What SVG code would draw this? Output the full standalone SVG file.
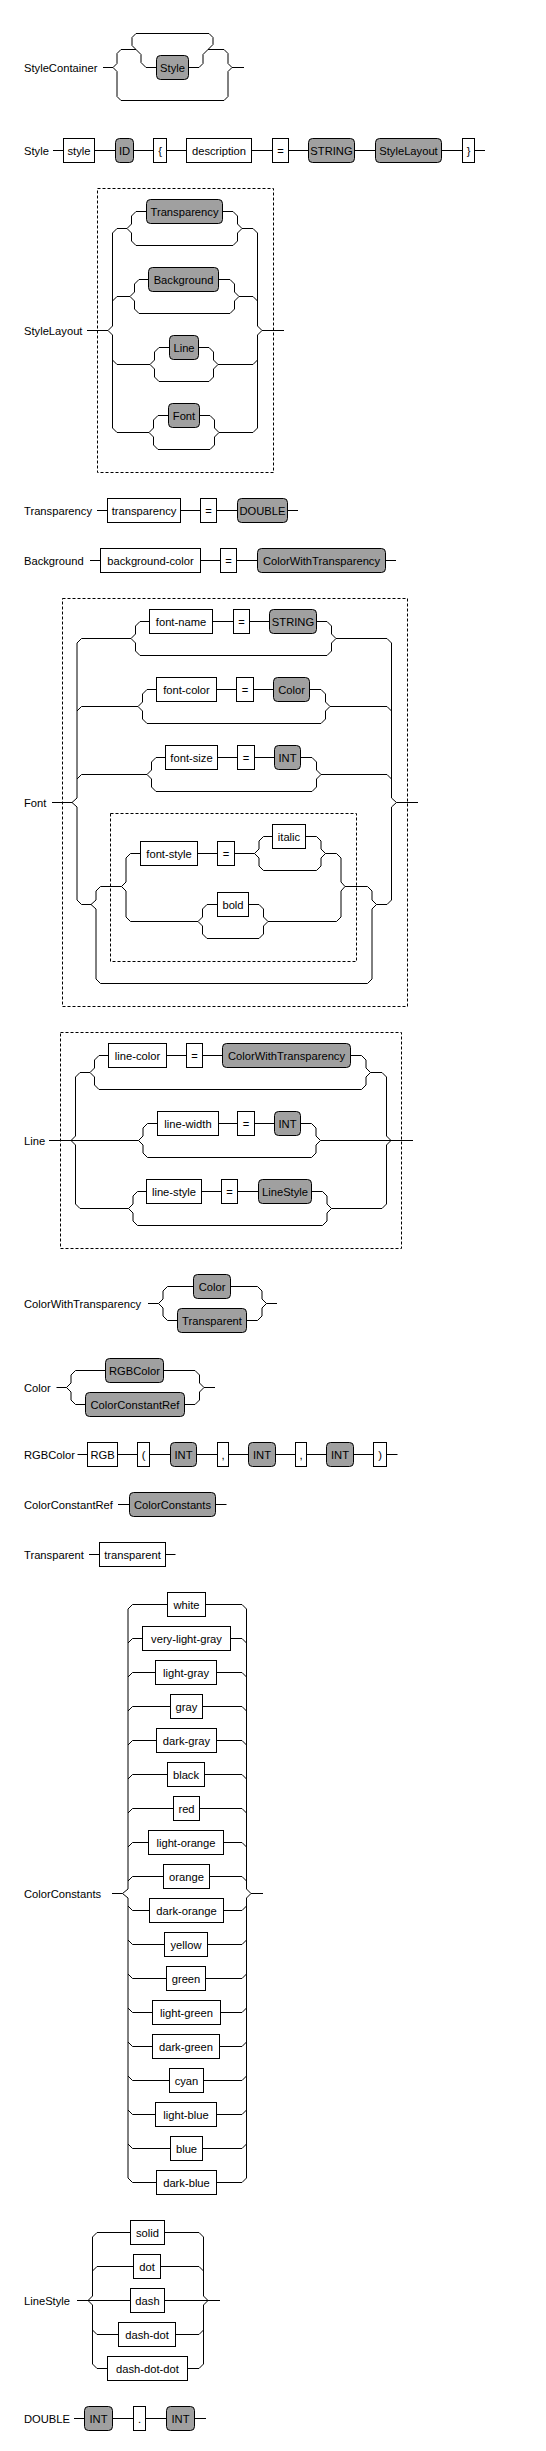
<svg xmlns="http://www.w3.org/2000/svg" width="546" height="2451" viewBox="0 0 546 2451">
<style>
.w{fill:none;stroke:#000;stroke-width:1}
.t{fill:#fff;stroke:#000;stroke-width:1}
.n{fill:#a0a0a0;stroke:#000;stroke-width:1}
.d{fill:none;stroke:#000;stroke-width:1;stroke-dasharray:3,2}
text{font-family:"Liberation Sans",Arial,sans-serif;font-size:11.2px;fill:#000}
.c{text-anchor:middle}
</style>
<rect width="546" height="2451" fill="#fff"/>
<g id="labels">
<text x="24" y="71.5">StyleContainer</text>
<text x="24" y="154.5">Style</text>
<text x="24" y="334.5">StyleLayout</text>
<text x="24" y="514.5">Transparency</text>
<text x="24" y="564.5">Background</text>
<text x="24" y="806.5">Font</text>
<text x="24" y="1144.5">Line</text>
<text x="24" y="1307.5">ColorWithTransparency</text>
<text x="24" y="1391.5">Color</text>
<text x="24" y="1458.5">RGBColor</text>
<text x="24" y="1508.5">ColorConstantRef</text>
<text x="24" y="1558.5">Transparent</text>
<text x="24" y="1897.5">ColorConstants</text>
<text x="24" y="2304.5">LineStyle</text>
<text x="24" y="2422.5">DOUBLE</text>
</g>
<g id="frames">
<rect class="d" x="97.5" y="188.5" width="176" height="284"/>
<rect class="d" x="62.5" y="598.5" width="345" height="408"/>
<rect class="d" x="110.5" y="813.5" width="246" height="148"/>
<rect class="d" x="60.5" y="1032.5" width="341" height="216"/>
</g>
<g id="connectors">
<!-- StyleContainer -->
<path class="w" d="M103,67.5 H113"/>
<path class="w" d="M121,49.5 L117,53.5 V63.5 L113,67.5 L117,71.5 V96.5 L121,100.5 H224 L228,96.5 V71.5 L232,67.5 L228,63.5 V53.5 L224,49.5 H208"/>
<path class="w" d="M121,49.5 H136"/>
<path class="w" d="M136,33.5 L132,37.5 V45.5 L136,49.5 L141,54.5 V62.5 L146,67.5 H156.5"/>
<path class="w" d="M136,33.5 H209 L213,37.5 V44.5 L208,49.5 L203,54.5 V63.5 L199,67.5 H188.5"/>
<path class="w" d="M232,67.5 H244"/>
<!-- Style -->
<path class="w" d="M53,150.5 H63.5 M94.5,150.5 H115.5 M133.5,150.5 H153.5 M166.5,150.5 H186.5 M251.5,150.5 H272.5 M288.5,150.5 H308.5 M354.5,150.5 H375.5 M441.5,150.5 H462.5 M474.5,150.5 H485"/>
<!-- StyleLayout -->
<path class="w" d="M87,330.5 H108 M262,330.5 H284"/>
<path class="w" d="M117,228.5 L112.5,233 V326 L108,330.5 L112.5,335 V428 L117,432.5 M112.5,301 L117,296.5 M112.5,360 L117,364.5"/>
<path class="w" d="M253,228.5 L257.5,233 V326 L262,330.5 L257.5,335 V428 L253,432.5 M257.5,301 L253,296.5 M257.5,360 L253,364.5"/>
<path class="w" d="M117,228.5 H127 M242,228.5 H253 M117,296.5 H130 M239,296.5 H253 M117,364.5 H150 M218,364.5 H253 M117,432.5 H149 M219,432.5 H253"/>
<path class="w" d="M136,211.5 L131.5,216 V224 L127,228.5 L131.5,233 V241 L136,245.5 H233 L237.5,241 V233 L242,228.5 L237.5,224 V216 L233,211.5 M136,211.5 H146.5 M222.5,211.5 H233"/>
<path class="w" d="M139,279.5 L134.5,284 V292 L130,296.5 L134.5,301 V309 L139,313.5 H230 L234.5,309 V301 L239,296.5 L234.5,292 V284 L230,279.5 M139,279.5 H148.5 M218.5,279.5 H230"/>
<path class="w" d="M159,347.5 L154.5,352 V360 L150,364.5 L154.5,369 V377 L159,381.5 H209 L213.5,377 V369 L218,364.5 L213.5,360 V352 L209,347.5 M159,347.5 H169.5 M198.5,347.5 H209"/>
<path class="w" d="M158,415.5 L153.5,420 V428 L149,432.5 L153.5,437 V445 L158,449.5 H210 L214.5,445 V437 L219,432.5 L214.5,428 V420 L210,415.5 M158,415.5 H168.5 M199.5,415.5 H210"/>
<!-- Transparency / Background -->
<path class="w" d="M97,510.5 H107.5 M180.5,510.5 H200.5 M216.5,510.5 H237.5 M287.5,510.5 H298"/>
<path class="w" d="M90,560.5 H100.5 M200.5,560.5 H220.5 M236.5,560.5 H257.5 M385.5,560.5 H396"/>
<!-- Font -->
<path class="w" d="M52,802.5 H72 M396.5,802.5 H418"/>
<path class="w" d="M81.5,638.5 L77,643 V798 L72,802.5 L77,807 V900 L81.5,904.5 M77,711 L81.5,706.5 M77,779 L81.5,774.5"/>
<path class="w" d="M387,638.5 L391.5,643 V798 L396.5,802.5 L391.5,807 V900 L387,904.5 M391.5,711 L387,706.5 M391.5,779 L387,774.5"/>
<path class="w" d="M81.5,638.5 H131 M336,638.5 H387 M81.5,706.5 H138 M330,706.5 H387 M81.5,774.5 H147 M321,774.5 H387 M81.5,904.5 H91 M376.5,904.5 H387"/>
<path class="w" d="M140,621.5 L135.5,626 V634 L131,638.5 L135.5,643 V651 L140,655.5 H327 L331.5,651 V643 L336,638.5 L331.5,634 V626 L327,621.5 M140,621.5 H149.5 M212.5,621.5 H233.5 M249.5,621.5 H269.5 M316.5,621.5 H327"/>
<path class="w" d="M147,689.5 L142.5,694 V702 L138,706.5 L142.5,711 V719 L147,723.5 H321 L325.5,719 V711 L330,706.5 L325.5,702 V694 L321,689.5 M147,689.5 H156.5 M216.5,689.5 H236.5 M253.5,689.5 H273.5 M309.5,689.5 H321"/>
<path class="w" d="M156,757.5 L151.5,762 V770 L147,774.5 L151.5,779 V787 L156,791.5 H312 L316.5,787 V779 L321,774.5 L316.5,770 V762 L312,757.5 M156,757.5 H165.5 M217.5,757.5 H237.5 M254.5,757.5 H274.5 M300.5,757.5 H312"/>
<path class="w" d="M100.5,886.5 L96,891 V900 L91,904.5 L96,909 V979 L100.5,983.5 H367.5 L372,979 V909 L376.5,904.5 L372,900 V891 L367.5,886.5 M100.5,886.5 H121.5 M345,886.5 H367.5"/>
<path class="w" d="M130.5,853.5 L126,858 V882 L121.5,886.5 L126,891 V917 L130.5,921.5 H198 M130.5,853.5 H140.5 M197.5,853.5 H217.5 M234.5,853.5 H254.5"/>
<path class="w" d="M263.5,836.5 L259,841 V849 L254.5,853.5 L259,858 V866 L263.5,870.5 H316.5 L321,866 V858 L325.5,853.5 L321,849 V841 L316.5,836.5 M263.5,836.5 H272.5 M305.5,836.5 H316.5"/>
<path class="w" d="M325.5,853.5 H336.5 L341,858 V882 L345,886.5 L341,891 V917 L336.5,921.5 H268"/>
<path class="w" d="M207,904.5 L202.5,909 V917 L198,921.5 L202.5,926 V934 L207,938.5 H259 L263.5,934 V926 L268,921.5 L263.5,917 V909 L259,904.5 M207,904.5 H217.5 M248.5,904.5 H259"/>
<!-- Line -->
<path class="w" d="M80,1072.5 L75.5,1077 V1136 L71,1140.5 L75.5,1145 V1204 L80,1208.5"/>
<path class="w" d="M382,1072.5 L386.5,1077 V1136 L391,1140.5 L386.5,1145 V1204 L382,1208.5"/>
<path class="w" d="M80,1072.5 H90 M370.5,1072.5 H382 M49,1140.5 H138.5 M320.5,1140.5 H413 M80,1208.5 H128.5 M331.5,1208.5 H382"/>
<path class="w" d="M99,1055.5 L94.5,1060 V1068 L90,1072.5 L94.5,1077 V1085 L99,1089.5 H361.5 L366,1085 V1077 L370.5,1072.5 L366,1068 V1060 L361.5,1055.5 M99,1055.5 H108.5 M166.5,1055.5 H186.5 M202.5,1055.5 H222.5 M350.5,1055.5 H361.5"/>
<path class="w" d="M147.5,1123.5 L143,1128 V1136 L138.5,1140.5 L143,1145 V1153 L147.5,1157.5 H311.5 L316,1153 V1145 L320.5,1140.5 L316,1136 V1128 L311.5,1123.5 M147.5,1123.5 H157.5 M218.5,1123.5 H237.5 M254.5,1123.5 H274.5 M300.5,1123.5 H311.5"/>
<path class="w" d="M137.5,1191.5 L133,1196 V1204 L128.5,1208.5 L133,1213 V1221 L137.5,1225.5 H322.5 L327,1221 V1213 L331.5,1208.5 L327,1204 V1196 L322.5,1191.5 M137.5,1191.5 H146.5 M201.5,1191.5 H221.5 M237.5,1191.5 H258.5 M311.5,1191.5 H322.5"/>
<!-- ColorWithTransparency -->
<path class="w" d="M148,1303.5 H158.5 M266.5,1303.5 H277"/>
<path class="w" d="M167.5,1286.5 L163,1291 V1299 L158.5,1303.5 L163,1308 V1316 L167.5,1320.5 H177.5 M167.5,1286.5 H193.5"/>
<path class="w" d="M230.5,1286.5 H257.5 L262,1291 V1299 L266.5,1303.5 L262,1308 V1316 L257.5,1320.5 H246.5"/>
<!-- Color -->
<path class="w" d="M56.5,1387.5 H66.5 M204,1387.5 H215"/>
<path class="w" d="M75.5,1370.5 L71,1375 V1383 L66.5,1387.5 L71,1392 V1400 L75.5,1404.5 H85.5 M75.5,1370.5 H105.5"/>
<path class="w" d="M163.5,1370.5 H195 L199.5,1375 V1383 L204,1387.5 L199.5,1392 V1400 L195,1404.5 H184.5"/>
<!-- RGBColor -->
<path class="w" d="M77.5,1454.5 H87.5 M117.5,1454.5 H137.5 M149.5,1454.5 H170.5 M196.5,1454.5 H217.5 M228.5,1454.5 H248.5 M275.5,1454.5 H295.5 M306.5,1454.5 H326.5 M353.5,1454.5 H373.5 M386.5,1454.5 H397.5"/>
<!-- ColorConstantRef / Transparent -->
<path class="w" d="M118,1504.5 H129.5 M215.5,1504.5 H226.5"/>
<path class="w" d="M89,1554.5 H99.5 M165.5,1554.5 H175.5"/>
<!-- ColorConstants -->
<path class="w" d="M112,1893.5 H122.5 M251,1893.5 H263"/>
<path class="w" d="M167.5,1604.5 H132.5 L128,1609 V1889 L122.5,1893.5 L128,1898 V2178 L132.5,2182.5 H156.5"/>
<path class="w" d="M205.5,1604.5 H242 L246.5,1609 V1889 L251,1893.5 L246.5,1898 V2178 L242,2182.5 H216.5"/>
<path class="w" d="M128,1643 L132.5,1638.5 H142.5 M230.5,1638.5 H242 L246.5,1643
M128,1677 L132.5,1672.5 H155.5 M216.5,1672.5 H242 L246.5,1677
M128,1711 L132.5,1706.5 H170.5 M202.5,1706.5 H242 L246.5,1711
M128,1745 L132.5,1740.5 H156.5 M216.5,1740.5 H242 L246.5,1745
M128,1779 L132.5,1774.5 H167.5 M204.5,1774.5 H242 L246.5,1779
M128,1813 L132.5,1808.5 H173.5 M199.5,1808.5 H242 L246.5,1813
M128,1847 L132.5,1842.5 H148.5 M223.5,1842.5 H242 L246.5,1847
M128,1881 L132.5,1876.5 H163.5 M209.5,1876.5 H242 L246.5,1881
M128,1906 L132.5,1910.5 H149.5 M223.5,1910.5 H242 L246.5,1906
M128,1940 L132.5,1944.5 H164.5 M207.5,1944.5 H242 L246.5,1940
M128,1974 L132.5,1978.5 H166.5 M205.5,1978.5 H242 L246.5,1974
M128,2008 L132.5,2012.5 H152.5 M220.5,2012.5 H242 L246.5,2008
M128,2042 L132.5,2046.5 H152.5 M219.5,2046.5 H242 L246.5,2042
M128,2076 L132.5,2080.5 H169.5 M203.5,2080.5 H242 L246.5,2076
M128,2110 L132.5,2114.5 H155.5 M216.5,2114.5 H242 L246.5,2110
M128,2144 L132.5,2148.5 H170.5 M202.5,2148.5 H242 L246.5,2144"/>
<!-- LineStyle -->
<path class="w" d="M130.5,2232.5 H97 L92.5,2237 V2296 L88,2300.5 L92.5,2305 V2364 L97,2368.5 H107.5"/>
<path class="w" d="M164.5,2232.5 H199 L203.5,2237 V2296 L208,2300.5 L203.5,2305 V2364 L199,2368.5 H187.5"/>
<path class="w" d="M92.5,2271 L97,2266.5 H133.5 M160.5,2266.5 H199 L203.5,2271 M92.5,2330 L97,2334.5 H118.5 M175.5,2334.5 H199 L203.5,2330"/>
<path class="w" d="M77,2300.5 H130.5 M164.5,2300.5 H220"/>
<!-- DOUBLE -->
<path class="w" d="M74,2418.5 H84.5 M112.5,2418.5 H133.5 M145.5,2418.5 H166.5 M194.5,2418.5 H206"/>
</g>
<g id="StyleContainer-nodes">
<g id="sc-style"><rect class="n" x="156.5" y="55.5" width="32" height="24" rx="4"/><text class="c" x="172.5" y="71.5">Style</text></g>
</g>
<g id="Style-nodes">
<g id="s-style"><rect class="t" x="63.5" y="138.5" width="31" height="24"/><text class="c" x="79" y="154.5">style</text></g>
<g id="s-id"><rect class="n" x="115.5" y="138.5" width="18" height="24" rx="4"/><text class="c" x="124.5" y="154.5">ID</text></g>
<g id="s-lbrace"><rect class="t" x="153.5" y="138.5" width="13" height="24"/><text class="c" x="160" y="154.5">{</text></g>
<g id="s-desc"><rect class="t" x="186.5" y="138.5" width="65" height="24"/><text class="c" x="219" y="154.5">description</text></g>
<g id="s-eq"><rect class="t" x="272.5" y="138.5" width="16" height="24"/><text class="c" x="280.5" y="154.5">=</text></g>
<g id="s-string"><rect class="n" x="308.5" y="138.5" width="46" height="24" rx="4"/><text class="c" x="331.5" y="154.5">STRING</text></g>
<g id="s-layout"><rect class="n" x="375.5" y="138.5" width="66" height="24" rx="4"/><text class="c" x="408.5" y="154.5">StyleLayout</text></g>
<g id="s-rbrace"><rect class="t" x="462.5" y="138.5" width="12" height="24"/><text class="c" x="468.5" y="154.5">}</text></g>
</g>
<g id="StyleLayout-nodes">
<g id="sl-transparency"><rect class="n" x="146.5" y="199.5" width="76" height="24" rx="4"/><text class="c" x="184.5" y="215.5">Transparency</text></g>
<g id="sl-background"><rect class="n" x="148.5" y="267.5" width="70" height="24" rx="4"/><text class="c" x="183.5" y="283.5">Background</text></g>
<g id="sl-line"><rect class="n" x="169.5" y="335.5" width="29" height="24" rx="4"/><text class="c" x="184" y="351.5">Line</text></g>
<g id="sl-font"><rect class="n" x="168.5" y="403.5" width="31" height="24" rx="4"/><text class="c" x="184" y="419.5">Font</text></g>
</g>
<g id="Transparency-nodes">
<g id="t-kw"><rect class="t" x="107.5" y="498.5" width="73" height="24"/><text class="c" x="144" y="514.5">transparency</text></g>
<g id="t-eq"><rect class="t" x="200.5" y="498.5" width="16" height="24"/><text class="c" x="208.5" y="514.5">=</text></g>
<g id="t-double"><rect class="n" x="237.5" y="498.5" width="50" height="24" rx="4"/><text class="c" x="262.5" y="514.5">DOUBLE</text></g>
</g>
<g id="Background-nodes">
<g id="b-kw"><rect class="t" x="100.5" y="548.5" width="100" height="24"/><text class="c" x="150.5" y="564.5">background-color</text></g>
<g id="b-eq"><rect class="t" x="220.5" y="548.5" width="16" height="24"/><text class="c" x="228.5" y="564.5">=</text></g>
<g id="b-cwt"><rect class="n" x="257.5" y="548.5" width="128" height="24" rx="4"/><text class="c" x="321.5" y="564.5">ColorWithTransparency</text></g>
</g>
<g id="Font-nodes">
<g id="f-name"><rect class="t" x="149.5" y="609.5" width="63" height="24"/><text class="c" x="181" y="625.5">font-name</text></g>
<g id="f-eq1"><rect class="t" x="233.5" y="609.5" width="16" height="24"/><text class="c" x="241.5" y="625.5">=</text></g>
<g id="f-string"><rect class="n" x="269.5" y="609.5" width="47" height="24" rx="4"/><text class="c" x="293" y="625.5">STRING</text></g>
<g id="f-color"><rect class="t" x="156.5" y="677.5" width="60" height="24"/><text class="c" x="186.5" y="693.5">font-color</text></g>
<g id="f-eq2"><rect class="t" x="236.5" y="677.5" width="17" height="24"/><text class="c" x="245" y="693.5">=</text></g>
<g id="f-colorref"><rect class="n" x="273.5" y="677.5" width="36" height="24" rx="4"/><text class="c" x="291.5" y="693.5">Color</text></g>
<g id="f-size"><rect class="t" x="165.5" y="745.5" width="52" height="24"/><text class="c" x="191.5" y="761.5">font-size</text></g>
<g id="f-eq3"><rect class="t" x="237.5" y="745.5" width="17" height="24"/><text class="c" x="246" y="761.5">=</text></g>
<g id="f-int"><rect class="n" x="274.5" y="745.5" width="26" height="24" rx="4"/><text class="c" x="287.5" y="761.5">INT</text></g>
<g id="f-style"><rect class="t" x="140.5" y="841.5" width="57" height="24"/><text class="c" x="169" y="857.5">font-style</text></g>
<g id="f-eq4"><rect class="t" x="217.5" y="841.5" width="17" height="24"/><text class="c" x="226" y="857.5">=</text></g>
<g id="f-italic"><rect class="t" x="272.5" y="824.5" width="33" height="24"/><text class="c" x="289" y="840.5">italic</text></g>
<g id="f-bold"><rect class="t" x="217.5" y="892.5" width="31" height="24"/><text class="c" x="233" y="908.5">bold</text></g>
</g>
<g id="Line-nodes">
<g id="l-color"><rect class="t" x="108.5" y="1043.5" width="58" height="24"/><text class="c" x="137.5" y="1059.5">line-color</text></g>
<g id="l-eq1"><rect class="t" x="186.5" y="1043.5" width="16" height="24"/><text class="c" x="194.5" y="1059.5">=</text></g>
<g id="l-cwt"><rect class="n" x="222.5" y="1043.5" width="128" height="24" rx="4"/><text class="c" x="286.5" y="1059.5">ColorWithTransparency</text></g>
<g id="l-width"><rect class="t" x="157.5" y="1111.5" width="61" height="24"/><text class="c" x="188" y="1127.5">line-width</text></g>
<g id="l-eq2"><rect class="t" x="237.5" y="1111.5" width="17" height="24"/><text class="c" x="246" y="1127.5">=</text></g>
<g id="l-int"><rect class="n" x="274.5" y="1111.5" width="26" height="24" rx="4"/><text class="c" x="287.5" y="1127.5">INT</text></g>
<g id="l-style"><rect class="t" x="146.5" y="1179.5" width="55" height="24"/><text class="c" x="174" y="1195.5">line-style</text></g>
<g id="l-eq3"><rect class="t" x="221.5" y="1179.5" width="16" height="24"/><text class="c" x="229.5" y="1195.5">=</text></g>
<g id="l-linestyle"><rect class="n" x="258.5" y="1179.5" width="53" height="24" rx="4"/><text class="c" x="285" y="1195.5">LineStyle</text></g>
</g>
<g id="ColorWithTransparency-nodes">
<g id="cwt-color"><rect class="n" x="193.5" y="1274.5" width="37" height="24" rx="4"/><text class="c" x="212" y="1290.5">Color</text></g>
<g id="cwt-transparent"><rect class="n" x="177.5" y="1308.5" width="69" height="24" rx="4"/><text class="c" x="212" y="1324.5">Transparent</text></g>
</g>
<g id="Color-nodes">
<g id="c-rgb"><rect class="n" x="105.5" y="1358.5" width="58" height="24" rx="4"/><text class="c" x="134.5" y="1374.5">RGBColor</text></g>
<g id="c-ref"><rect class="n" x="85.5" y="1392.5" width="99" height="24" rx="4"/><text class="c" x="135" y="1408.5">ColorConstantRef</text></g>
</g>
<g id="RGBColor-nodes">
<g id="r-rgb"><rect class="t" x="87.5" y="1442.5" width="30" height="24"/><text class="c" x="102.5" y="1458.5">RGB</text></g>
<g id="r-lp"><rect class="t" x="137.5" y="1442.5" width="12" height="24"/><text class="c" x="143.5" y="1458.5">(</text></g>
<g id="r-int1"><rect class="n" x="170.5" y="1442.5" width="26" height="24" rx="4"/><text class="c" x="183.5" y="1458.5">INT</text></g>
<g id="r-c1"><rect class="t" x="217.5" y="1442.5" width="11" height="24"/><text class="c" x="223" y="1458.5">,</text></g>
<g id="r-int2"><rect class="n" x="248.5" y="1442.5" width="27" height="24" rx="4"/><text class="c" x="262" y="1458.5">INT</text></g>
<g id="r-c2"><rect class="t" x="295.5" y="1442.5" width="11" height="24"/><text class="c" x="301" y="1458.5">,</text></g>
<g id="r-int3"><rect class="n" x="326.5" y="1442.5" width="27" height="24" rx="4"/><text class="c" x="340" y="1458.5">INT</text></g>
<g id="r-rp"><rect class="t" x="373.5" y="1442.5" width="13" height="24"/><text class="c" x="380" y="1458.5">)</text></g>
</g>
<g id="ColorConstantRef-nodes">
<g id="ccr-cc"><rect class="n" x="129.5" y="1492.5" width="86" height="24" rx="4"/><text class="c" x="172.5" y="1508.5">ColorConstants</text></g>
</g>
<g id="Transparent-nodes">
<g id="tr-kw"><rect class="t" x="99.5" y="1542.5" width="66" height="24"/><text class="c" x="132.5" y="1558.5">transparent</text></g>
</g>
<g id="ColorConstants-nodes">
<g id="cc-white"><rect class="t" x="167.5" y="1592.5" width="38" height="24"/><text class="c" x="186.5" y="1608.5">white</text></g>
<g id="cc-vlgray"><rect class="t" x="142.5" y="1626.5" width="88" height="24"/><text class="c" x="186.5" y="1642.5">very-light-gray</text></g>
<g id="cc-lgray"><rect class="t" x="155.5" y="1660.5" width="61" height="24"/><text class="c" x="186" y="1676.5">light-gray</text></g>
<g id="cc-gray"><rect class="t" x="170.5" y="1694.5" width="32" height="24"/><text class="c" x="186.5" y="1710.5">gray</text></g>
<g id="cc-dgray"><rect class="t" x="156.5" y="1728.5" width="60" height="24"/><text class="c" x="186.5" y="1744.5">dark-gray</text></g>
<g id="cc-black"><rect class="t" x="167.5" y="1762.5" width="37" height="24"/><text class="c" x="186" y="1778.5">black</text></g>
<g id="cc-red"><rect class="t" x="173.5" y="1796.5" width="26" height="24"/><text class="c" x="186.5" y="1812.5">red</text></g>
<g id="cc-lorange"><rect class="t" x="148.5" y="1830.5" width="75" height="24"/><text class="c" x="186" y="1846.5">light-orange</text></g>
<g id="cc-orange"><rect class="t" x="163.5" y="1864.5" width="46" height="24"/><text class="c" x="186.5" y="1880.5">orange</text></g>
<g id="cc-dorange"><rect class="t" x="149.5" y="1898.5" width="74" height="24"/><text class="c" x="186.5" y="1914.5">dark-orange</text></g>
<g id="cc-yellow"><rect class="t" x="164.5" y="1932.5" width="43" height="24"/><text class="c" x="186" y="1948.5">yellow</text></g>
<g id="cc-green"><rect class="t" x="166.5" y="1966.5" width="39" height="24"/><text class="c" x="186" y="1982.5">green</text></g>
<g id="cc-lgreen"><rect class="t" x="152.5" y="2000.5" width="68" height="24"/><text class="c" x="186.5" y="2016.5">light-green</text></g>
<g id="cc-dgreen"><rect class="t" x="152.5" y="2034.5" width="67" height="24"/><text class="c" x="186" y="2050.5">dark-green</text></g>
<g id="cc-cyan"><rect class="t" x="169.5" y="2068.5" width="34" height="24"/><text class="c" x="186.5" y="2084.5">cyan</text></g>
<g id="cc-lblue"><rect class="t" x="155.5" y="2102.5" width="61" height="24"/><text class="c" x="186" y="2118.5">light-blue</text></g>
<g id="cc-blue"><rect class="t" x="170.5" y="2136.5" width="32" height="24"/><text class="c" x="186.5" y="2152.5">blue</text></g>
<g id="cc-dblue"><rect class="t" x="156.5" y="2170.5" width="60" height="24"/><text class="c" x="186.5" y="2186.5">dark-blue</text></g>
</g>
<g id="LineStyle-nodes">
<g id="ls-solid"><rect class="t" x="130.5" y="2220.5" width="34" height="24"/><text class="c" x="147.5" y="2236.5">solid</text></g>
<g id="ls-dot"><rect class="t" x="133.5" y="2254.5" width="27" height="24"/><text class="c" x="147" y="2270.5">dot</text></g>
<g id="ls-dash"><rect class="t" x="130.5" y="2288.5" width="34" height="24"/><text class="c" x="147.5" y="2304.5">dash</text></g>
<g id="ls-dashdot"><rect class="t" x="118.5" y="2322.5" width="57" height="24"/><text class="c" x="147" y="2338.5">dash-dot</text></g>
<g id="ls-dashdotdot"><rect class="t" x="107.5" y="2356.5" width="80" height="24"/><text class="c" x="147.5" y="2372.5">dash-dot-dot</text></g>
</g>
<g id="DOUBLE-nodes">
<g id="d-int1"><rect class="n" x="84.5" y="2406.5" width="28" height="24" rx="4"/><text class="c" x="98.5" y="2422.5">INT</text></g>
<g id="d-dot"><rect class="t" x="133.5" y="2406.5" width="12" height="24"/><text class="c" x="139.5" y="2422.5">.</text></g>
<g id="d-int2"><rect class="n" x="166.5" y="2406.5" width="28" height="24" rx="4"/><text class="c" x="180.5" y="2422.5">INT</text></g>
</g>
</svg>
